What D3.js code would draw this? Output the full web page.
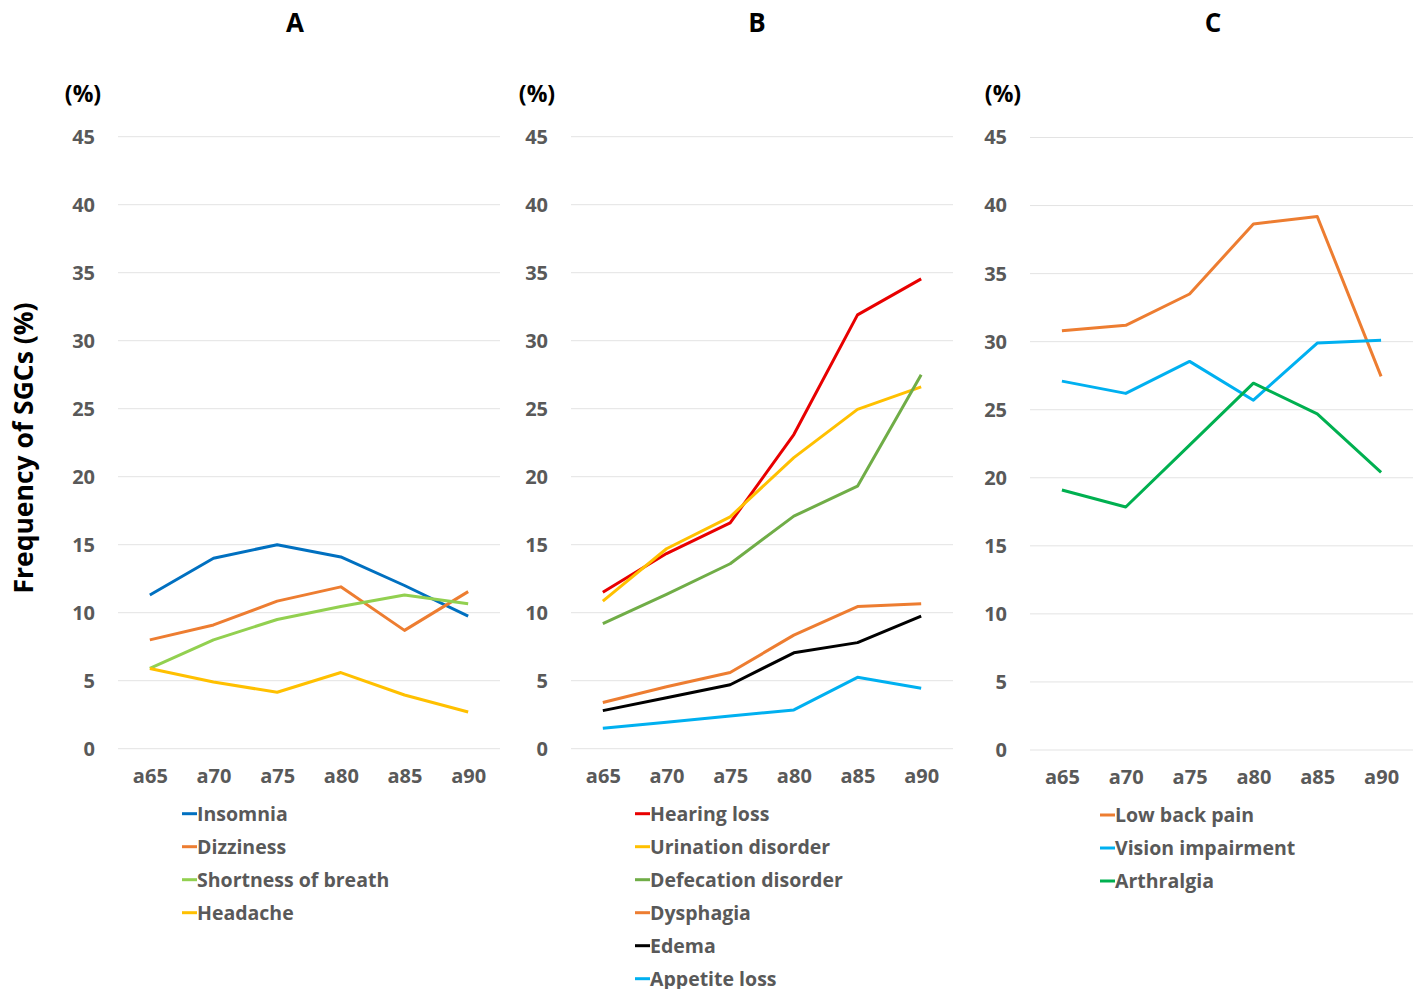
<!DOCTYPE html>
<html>
<head>
<meta charset="utf-8">
<script src="https://cdn.jsdelivr.net/npm/d3@7"></script>
<style>
  body { margin: 0; background: #fff; }
  svg text { font-family: "Open Sans", Lato, sans-serif; font-weight: bold; }
</style>
</head>
<body>
<div id="chart"></div>
<script>
// categories and ticks
var ages = ["a65", "a70", "a75", "a80", "a85", "a90"];
var yTicks = [0, 5, 10, 15, 20, 25, 30, 35, 40, 45];

// panel A
var insomnia = [11.3, 14.0, 15.0, 14.1, 12.0, 9.75];
var dizziness = [8.0, 9.1, 10.85, 11.9, 8.7, 11.55];
var shortnessOfBreath = [5.9, 8.0, 9.5, 10.45, 11.3, 10.65];
var headache = [5.9, 4.9, 4.15, 5.6, 3.95, 2.7];

// panel B
var hearingLoss = [11.5, 14.35, 16.6, 23.1, 31.9, 34.55];
var urinationDisorder = [10.85, 14.7, 17.05, 21.4, 24.95, 26.6];
var defecationDisorder = [9.2, 11.35, 13.6, 17.1, 19.3, 27.5];
var dysphagia = [3.4, 4.55, 5.6, 8.35, 10.45, 10.65];
var edema = [2.8, 3.75, 4.7, 7.05, 7.8, 9.75];
var appetiteLoss = [1.5, 1.95, 2.4, 2.85, 5.25, 4.45];

// panel C
var lowBackPain = [30.8, 31.2, 33.5, 38.65, 39.2, 27.45];
var visionImpairment = [27.1, 26.2, 28.55, 25.7, 29.9, 30.1];
var arthralgia = [19.1, 17.85, 22.4, 26.95, 24.7, 20.4];

var panels = [
  { title: "A", left: 118, right: 500, top: 136.7, bottom: 748.7, titleX: 295, unitX: 83, legX: 182,
    series: [
      { name: "Insomnia", values: insomnia, color: "#0070C0" },
      { name: "Dizziness", values: dizziness, color: "#ED7D31" },
      { name: "Shortness of breath", values: shortnessOfBreath, color: "#92D050" },
      { name: "Headache", values: headache, color: "#FFC000" }
    ] },
  { title: "B", left: 571, right: 953, top: 136.7, bottom: 748.7, titleX: 757, unitX: 537, legX: 635,
    series: [
      { name: "Hearing loss", values: hearingLoss, color: "#E80000" },
      { name: "Urination disorder", values: urinationDisorder, color: "#FFC000" },
      { name: "Defecation disorder", values: defecationDisorder, color: "#70AD47" },
      { name: "Dysphagia", values: dysphagia, color: "#ED7D31" },
      { name: "Edema", values: edema, color: "#000000" },
      { name: "Appetite loss", values: appetiteLoss, color: "#00B0F0" }
    ] },
  { title: "C", left: 1030, right: 1413, top: 137.5, bottom: 750, titleX: 1213, unitX: 1003, legX: 1100,
    series: [
      { name: "Low back pain", values: lowBackPain, color: "#ED7D31" },
      { name: "Vision impairment", values: visionImpairment, color: "#00B0F0" },
      { name: "Arthralgia", values: arthralgia, color: "#00B050" }
    ] }
];

var svg = d3.select("#chart").append("svg")
  .attr("width", 1414)
  .attr("height", 989);

panels.forEach(function(p) {
  var x = d3.scalePoint().domain(ages).range([p.left, p.right]).padding(0.5);
  var y = d3.scaleLinear().domain([0, 45]).range([p.bottom, p.top]);

  // gridlines
  svg.append("g")
    .selectAll("line")
    .data(yTicks)
    .enter().append("line")
    .attr("x1", p.left).attr("x2", p.right)
    .attr("y1", function(d) { return y(d); })
    .attr("y2", function(d) { return y(d); })
    .attr("stroke", "#e3e3e3")
    .attr("stroke-width", 1);

  // y axis labels
  var yAxis = d3.axisLeft(y).tickValues(yTicks).tickSize(0).tickPadding(23);
  var gy = svg.append("g")
    .attr("transform", "translate(" + p.left + ",0)")
    .call(yAxis);
  gy.select(".domain").remove();
  gy.selectAll("text").attr("font-size", 20).attr("fill", "#595959")
    .style("font-family", "'Open Sans', sans-serif");

  // x axis labels
  var xAxis = d3.axisBottom(x).tickSize(0).tickPadding(20);
  var gx = svg.append("g")
    .attr("transform", "translate(0," + p.bottom + ")")
    .call(xAxis);
  gx.select(".domain").remove();
  gx.selectAll("text").attr("font-size", 20).attr("fill", "#595959")
    .style("font-family", "'Open Sans', sans-serif");

  // lines
  var line = d3.line()
    .x(function(d, i) { return x(ages[i]); })
    .y(function(d) { return y(d); });

  p.series.forEach(function(s) {
    svg.append("path")
      .datum(s.values)
      .attr("d", line)
      .attr("fill", "none")
      .attr("stroke", s.color)
      .attr("stroke-width", 3)
      .attr("stroke-linejoin", "round");
  });

  // panel title
  svg.append("text")
    .attr("x", p.titleX).attr("y", 32)
    .attr("text-anchor", "middle")
    .attr("font-size", 26)
    .attr("fill", "#000")
    .text(p.title);

  // unit label
  svg.append("text")
    .attr("x", p.unitX).attr("y", 102)
    .attr("text-anchor", "middle")
    .attr("font-size", 23)
    .attr("fill", "#000")
    .text("(%)");

  // legend
  var leg = svg.append("g")
    .attr("transform", "translate(" + p.legX + "," + (p.bottom + 65) + ")");
  p.series.forEach(function(s, i) {
    var row = leg.append("g").attr("transform", "translate(0," + (i * 33) + ")");
    row.append("line")
      .attr("x1", 0).attr("x2", 15)
      .attr("y1", 0).attr("y2", 0)
      .attr("stroke", s.color)
      .attr("stroke-width", 3);
    row.append("text")
      .attr("x", 15).attr("y", 7)
      .attr("font-size", 19.5)
      .attr("fill", "#595959")
      .text(s.name);
  });
});

// y axis title
svg.append("text")
  .attr("transform", "translate(33,448) rotate(-90)")
  .attr("text-anchor", "middle")
  .attr("font-size", 26.5)
  .attr("fill", "#000")
  .text("Frequency of SGCs (%)");
</script>
</body>
</html>
